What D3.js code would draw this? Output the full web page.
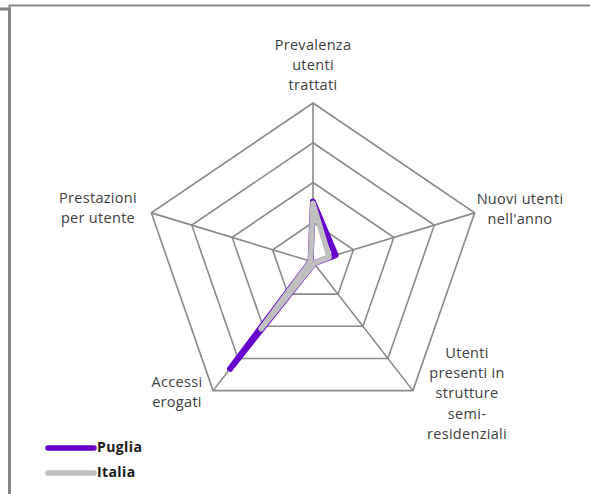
<!DOCTYPE html>
<html>
<head>
<meta charset="utf-8">
<script src="https://cdn.jsdelivr.net/npm/d3@7"></script>
<style>
  html, body { margin: 0; padding: 0; background: #fff; }
  svg { display: block; }
</style>
</head>
<body>
<div id="chart_parent"></div>
<script>
// axis labels, clockwise from the top
const categories = [
    ['Prevalenza', 'utenti', 'trattati'],
    ['Nuovi utenti', 'nell\'anno'],
    ['Utenti', 'presenti in', 'strutture', 'semi-', 'residenziali'],
    ['Accessi', 'erogati'],
    ['Prestazioni', 'per utente'],
];
const seriesNames = ['Puglia', 'Italia'];
const pugliaValues = [0.76, 0.28, 0.02, 1.66, 0.03];
const italiaValues = [0.74, 0.2, 0.02, 1.04, 0.03];
const ringTicks = [0.5, 1, 1.5, 2];

const chartConfig = {
    width: 590,
    height: 494,
    cx: 313,
    cy: 262,
    rx: 170,
    ry: 159,
    // label anchor points: [x, y of first line]
    labelPos: [[313, 46], [520, 200], [467, 354], [177, 383], [98, 199]],
    lineHeight: 20.2,
    colors: { Puglia: '#6600cc', Italia: '#bfbfbf' },
    widths: { Puglia: 6, Italia: 5.5 },
};

const svg = d3.select('#chart_parent').append('svg')
    .attr('width', chartConfig.width)
    .attr('height', chartConfig.height);

// frame
svg.append('path')
    .attr('d', 'M0,9H9.5V494')
    .attr('fill', 'none')
    .attr('stroke', '#868686')
    .attr('stroke-width', 3);
svg.append('path')
    .attr('d', 'M9.5,494V5.5H590')
    .attr('fill', 'none')
    .attr('stroke', '#868686')
    .attr('stroke-width', 2);

const n = categories.length;
const rScale = d3.scaleLinear().domain([0, d3.max(ringTicks)]).range([0, 1]);
const angle = i => (i * 2 * Math.PI) / n;

function point(i, v) {
    const f = rScale(v);
    return [
        chartConfig.cx + chartConfig.rx * f * Math.sin(angle(i)),
        chartConfig.cy - chartConfig.ry * f * Math.cos(angle(i)),
    ];
}

const grid = svg.append('g').attr('class', 'grid');

grid.selectAll('.ring')
    .data(ringTicks)
    .enter()
    .append('path')
    .attr('class', 'ring')
    .attr('d', t => d3.line()(d3.range(n).map(i => point(i, t))) + 'Z')
    .attr('fill', 'none')
    .attr('stroke', '#8a8a8a')
    .attr('stroke-width', 1.6);

grid.selectAll('.spoke')
    .data(d3.range(n))
    .enter()
    .append('line')
    .attr('class', 'spoke')
    .attr('x1', chartConfig.cx)
    .attr('y1', chartConfig.cy)
    .attr('x2', i => point(i, d3.max(ringTicks))[0])
    .attr('y2', i => point(i, d3.max(ringTicks))[1])
    .attr('stroke', '#8a8a8a')
    .attr('stroke-width', 1.6);

const labels = svg.append('g')
    .attr('font-family', '"Open Sans", sans-serif')
    .attr('font-size', 14.5)
    .attr('letter-spacing', 0.3)
    .attr('fill', '#404040')
    .attr('text-anchor', 'middle');

categories.forEach((lines, i) => {
    const [x, y] = chartConfig.labelPos[i];
    const t = labels.append('text')
        .attr('x', x)
        .attr('y', y)
        .attr('dominant-baseline', 'middle');
    lines.forEach((l, j) => {
        t.append('tspan')
            .attr('x', x)
            .attr('dy', j === 0 ? 0 : chartConfig.lineHeight)
            .text(l);
    });
});

const series = [
    { name: 'Puglia', values: pugliaValues },
    { name: 'Italia', values: italiaValues },
];

svg.append('g').selectAll('.series')
    .data(series)
    .enter()
    .append('path')
    .attr('class', 'series')
    .attr('d', s => d3.line()(s.values.map((v, i) => point(i, v))) + 'Z')
    .attr('fill', 'none')
    .attr('stroke', s => chartConfig.colors[s.name])
    .attr('stroke-width', s => chartConfig.widths[s.name])
    .attr('stroke-linejoin', 'round')
    .attr('stroke-linecap', 'round');

// legend
const legend = svg.append('g').selectAll('.legend')
    .data(seriesNames)
    .enter()
    .append('g')
    .attr('class', 'legend')
    .attr('transform', (d, i) => `translate(48,${448 + i * 25})`);

legend.append('line')
    .attr('x1', 0)
    .attr('x2', 46)
    .attr('stroke', d => chartConfig.colors[d])
    .attr('stroke-width', 5.5)
    .attr('stroke-linecap', 'round');

legend.append('text')
    .attr('x', 49)
    .attr('dominant-baseline', 'middle')
    .attr('font-family', '"Open Sans", sans-serif')
    .attr('font-size', 14)
    .attr('letter-spacing', 0.4)
    .attr('font-weight', 'bold')
    .attr('fill', '#1a1a1a')
    .text(d => d);
</script>
</body>
</html>
